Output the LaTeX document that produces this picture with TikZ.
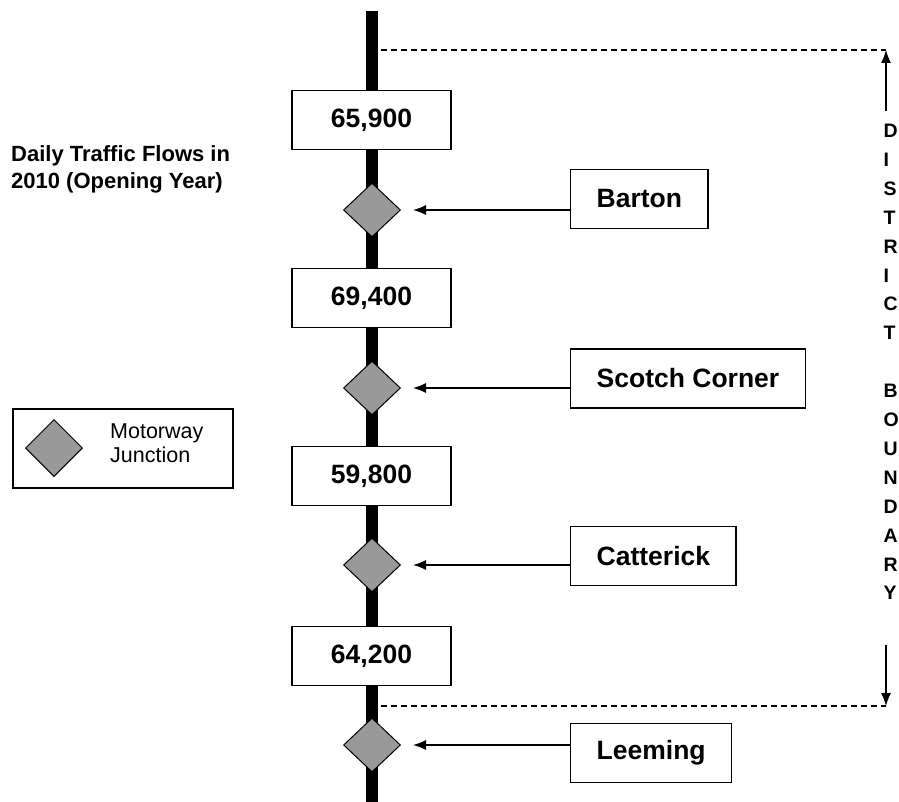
\documentclass[tikz,border=0pt]{standalone}
\usepackage{fontspec}
\setmainfont{Liberation Sans}
\usetikzlibrary{shapes.geometric,arrows.meta}
\definecolor{juncgray}{RGB}{153,153,153}
\begin{document}
\begin{tikzpicture}[x=1pt,y=-1pt,
  valbox/.style={draw, fill=white, line width=1.4pt, minimum width=159pt, minimum height=59pt, inner sep=0pt, font=\bfseries\fontsize{26.5}{30}\selectfont},
  namebox/.style={draw, fill=white, line width=1.4pt, minimum height=59pt, inner xsep=26pt, inner ysep=0pt, anchor=west, font=\bfseries\fontsize{26.5}{30}\selectfont},
  junc/.style={diamond, draw, fill=juncgray, line width=1pt, minimum width=57pt, minimum height=54pt, inner sep=0pt},
  feed/.style={line width=1.3pt, -{Latex[length=13pt,width=10pt]}, shorten >=12pt},
  bound/.style={line width=1.3pt, dash pattern=on 6pt off 4pt},
  boundarrow/.style={line width=1.1pt, -{Latex[length=13pt,width=10pt]}},
  road/.style={line width=12pt}]
\useasboundingbox (0,0) rectangle (899,802);
% road
\coordinate (rtop) at (372,11);
\coordinate (rbot) at (372,802);
\draw[road] (rtop) -- (rbot);
% boundary
\coordinate (bt1) at (381,50);
\coordinate (bt2) at (886,50);
\coordinate (bb1) at (381,706);
\coordinate (bb2) at (886,706);
\coordinate (at) at (886,111);
\coordinate (ab) at (886,645);
\draw[bound] (bt1) -- (bt2);
\draw[bound] (bb1) -- (bb2);
\draw[boundarrow] (at) -- (bt2);
\draw[boundarrow] (ab) -- (bb2);
\node[anchor=west, inner sep=0pt, align=left, font=\bfseries\fontsize{19.5}{28.9}\selectfont] (dist) at (883.5,362)
  {D\\I\\S\\T\\R\\I\\C\\T\\\mbox{}\\B\\O\\U\\N\\D\\A\\R\\Y};
% flow values
\node[valbox] (v1) at (371.5,120) {65,900};
\node[valbox] (v2) at (371.5,298) {69,400};
\node[valbox] (v3) at (371.5,476) {59,800};
\node[valbox] (v4) at (371.5,656) {64,200};
% junctions
\node[junc] (j1) at (372,210) {};
\node[junc] (j2) at (372,388) {};
\node[junc] (j3) at (372,565) {};
\node[junc] (j4) at (372,745) {};
% names
\node[namebox] (n1) at (570,199) {Barton};
\node[namebox] (n2) at (570,378.5) {Scotch Corner};
\node[namebox] (n3) at (570,556) {Catterick};
\node[namebox] (n4) at (570,753) {Leeming};
\draw[feed] (j1.east -| n1.west) -- (j1.east);
\draw[feed] (j2.east -| n2.west) -- (j2.east);
\draw[feed] (j3.east -| n3.west) -- (j3.east);
\draw[feed] (j4.east -| n4.west) -- (j4.east);
% title
\node[anchor=north west, inner sep=0pt, align=left, font=\bfseries\fontsize{22}{27}\selectfont] (title) at (11,145)
  {Daily Traffic Flows in\\2010 (Opening Year)};
% legend
\node[draw, line width=1.4pt, minimum width=220pt, minimum height=79pt, inner sep=0pt] (leg) at (123,448.5) {};
\node[junc, minimum height=57pt] (legj) at (54,448) {};
\node[anchor=west, align=left, inner sep=0pt, font=\fontsize{21.5}{24}\selectfont] (legt) at (110,443) {Motorway\\Junction};
\end{tikzpicture}
\end{document}
